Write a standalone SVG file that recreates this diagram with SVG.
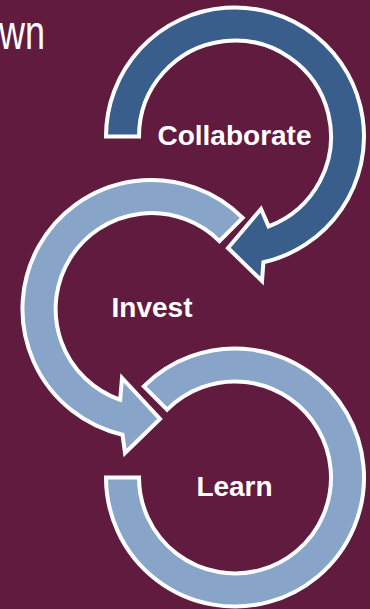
<svg xmlns="http://www.w3.org/2000/svg" width="370" height="609" viewBox="0 0 370 609">
  <style>
    .band { stroke: #ffffff; stroke-width: 4; stroke-linejoin: miter; }
    .dark { fill: #3a5e8c; }
    .light { fill: #89a4c9; }
    .label { font-family: "Liberation Sans", Arial, sans-serif; font-weight: bold; font-size: 28px; fill: #ffffff; text-anchor: middle; }
    .title { font-family: "Liberation Sans", Arial, sans-serif; font-size: 48px; fill: #ffffff; }
  </style>
  <rect x="0" y="0" width="370" height="609" fill="#611b3f"/>

  <!-- cropped heading -->
  <text class="title" x="-1" y="49" textLength="46" lengthAdjust="spacingAndGlyphs">wn</text>

  <g id="connectors">
    <!-- Collaborate: clockwise ring from the left, arrowhead pointing back toward Invest -->
    <path id="arrow-collaborate" class="band dark"
      d="M106,136.5 A129,129 0 1 1 263.4,262.3 L262,281 L228,248 L261,209 L268.6,226.4 A96,96 0 1 0 139,136.5 Z"/>
    <!-- Invest: counter-clockwise ring, arrowhead pointing into Learn -->
    <path id="arrow-invest" class="band light"
      d="M242.7,217.8 A129,129 0 1 0 122.5,434.7 L125,453 L160,419 L122,378 L120.2,399.8 A96,96 0 1 1 219.4,241.1 Z"/>
  </g>

  <g id="node-learn">
    <path class="band light"
      d="M106,477.5 A129,129 0 1 0 143.8,386.3 L167.1,409.6 A96,96 0 1 1 139,477.5 Z"/>
    <text class="label" x="234.5" y="496">Learn</text>
  </g>
  <g id="node-collaborate">
    <text class="label" x="234.5" y="145">Collaborate</text>
  </g>
  <g id="node-invest">
    <text class="label" x="152" y="317">Invest</text>
  </g>
</svg>
